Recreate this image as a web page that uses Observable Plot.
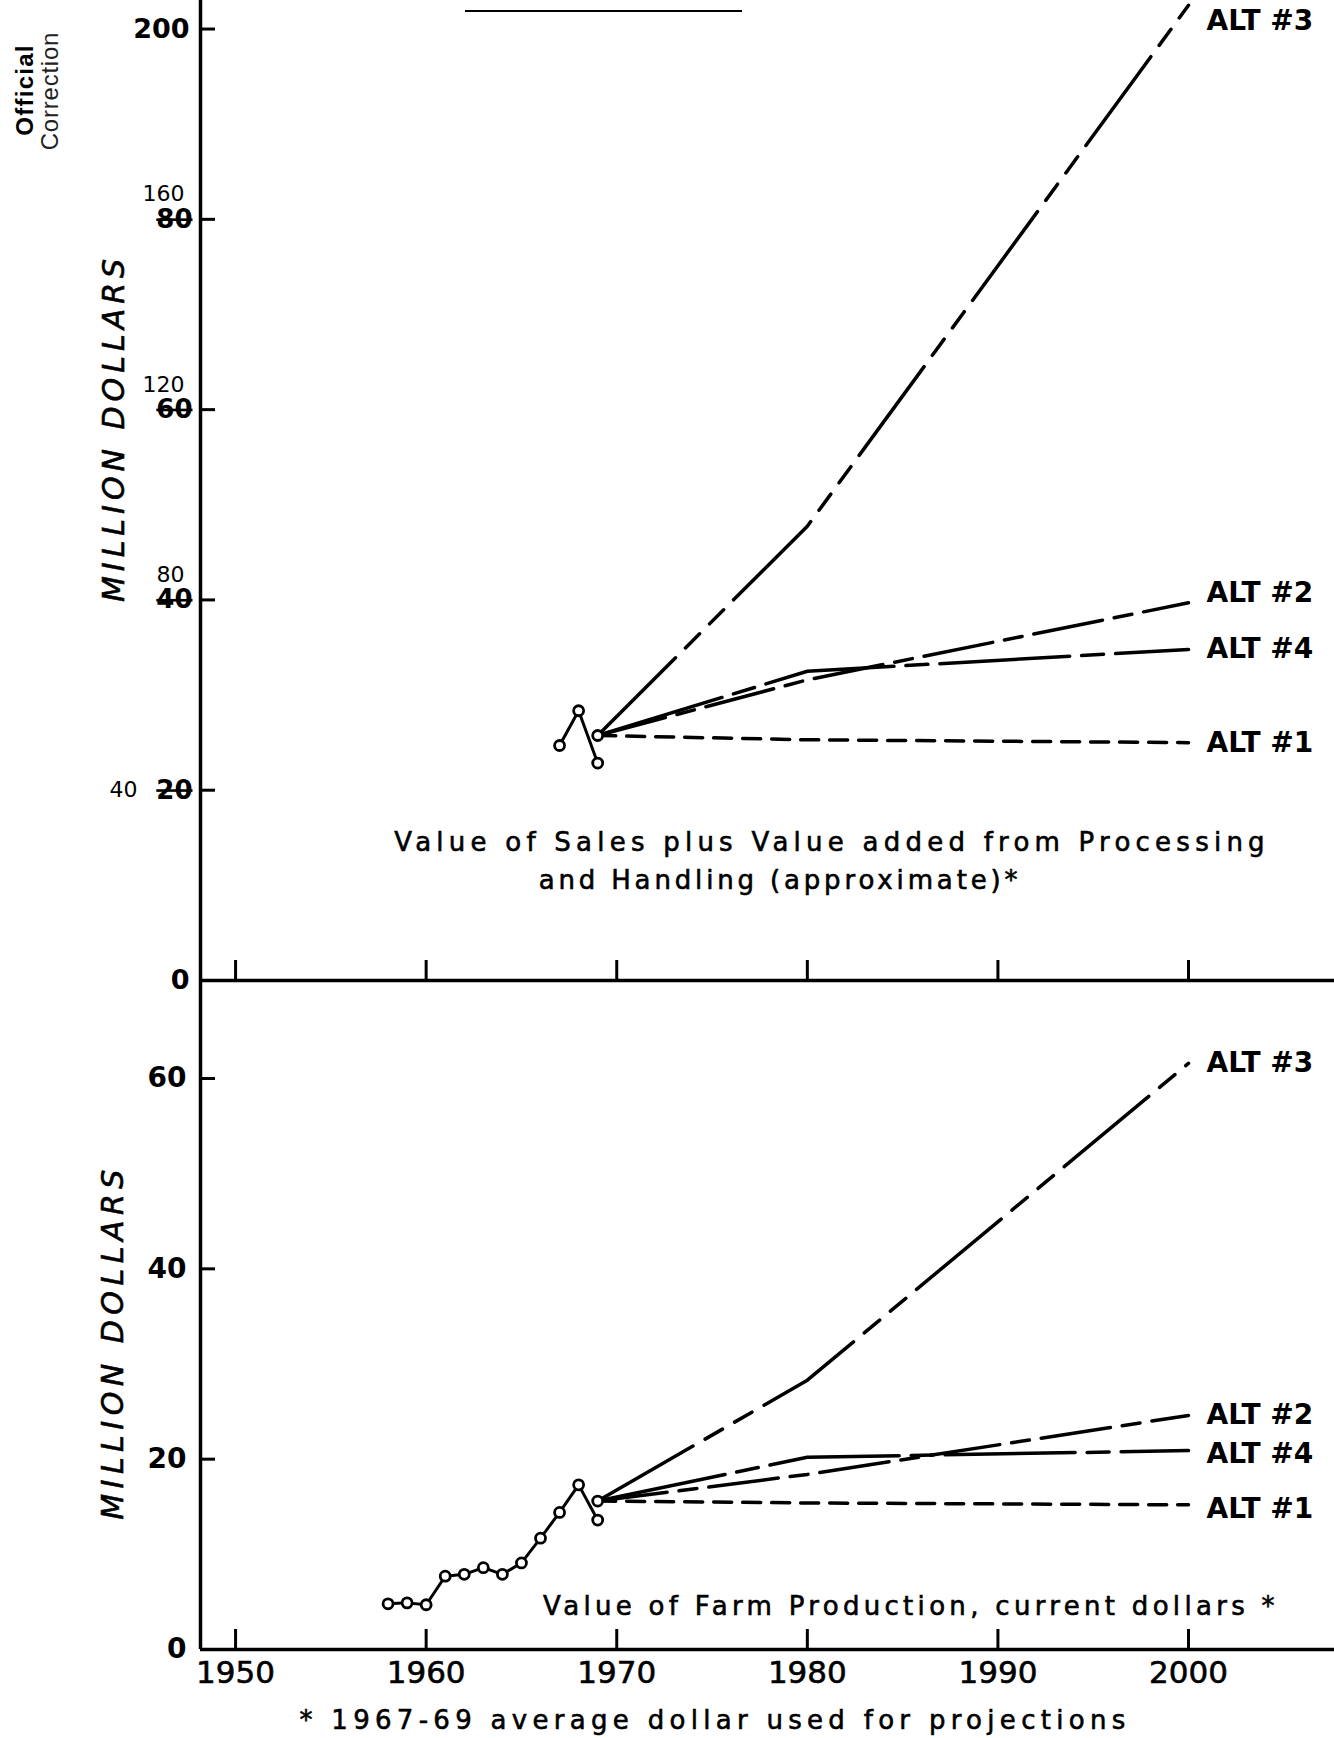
<!DOCTYPE html>
<html><head><meta charset="utf-8">
<script src="https://cdn.jsdelivr.net/npm/d3@7"></script>
<script src="https://cdn.jsdelivr.net/npm/@observablehq/plot@0.6"></script>
<style>
html,body{margin:0;padding:0;background:#fff;overflow:hidden;}
#wrap{position:relative;width:1334px;height:1738px;overflow:hidden;font-family:"DejaVu Sans",sans-serif;color:#000;background:#fff;}
.abs{position:absolute;white-space:nowrap;line-height:1;}
.heavy{-webkit-text-stroke:0.6px #000;}
#wrap svg{position:absolute;left:0;}
</style></head><body><div id="wrap"></div>
<script>
// ---------------- data ----------------
const xTicks = [1950, 1960, 1970, 1980, 1990, 2000];
const projYears = [1969, 1980, 2000];
const altNames = ["ALT #1", "ALT #2", "ALT #3", "ALT #4"];

// Top panel: Value of Sales plus Value added (million dollars, corrected scale)
const yTicksTop = [0, 40, 80, 120, 160, 200];
const yTickOldTop = [null, "20", "40", "60", "80", null];   // printed labels, struck out
const histYearsTop = [1967, 1968, 1969];
const histValuesTop = [49.4, 56.7, 45.7];
const baseTop = 51.5;          // 1967-69 average, start of projections
const alt1Top = [51.5, 50.6, 50.0];
const alt2Top = [51.5, 63.2, 79.4];
const alt3Top = [51.5, 95.5, 205];
const alt4Top = [51.5, 65.0, 69.6];

// Bottom panel: Value of Farm Production
const yTicksBottom = [0, 20, 40, 60];
const histYearsBottom = [1958, 1959, 1960, 1961, 1962, 1963, 1964, 1965, 1966, 1967, 1968, 1969];
const histValuesBottom = [4.8, 4.9, 4.7, 7.7, 7.9, 8.6, 7.9, 9.1, 11.7, 14.4, 17.3, 13.6];
const baseBottom = 15.6;
const alt1Bottom = [15.6, 15.4, 15.2];
const alt2Bottom = [15.6, 18.4, 24.6];
const alt3Bottom = [15.6, 28.3, 61.6];
const alt4Bottom = [15.6, 20.2, 20.9];

// ---------------- helpers / styling ----------------
const W = 1334, ML = 200;
const xDomain = [1948.16, 2007.66];
const dashes = ["18,11", "70,12,18,12", "110,14,20,14,20,14", "130,12,22,12"];
const font = "DejaVu Sans";
const labelNudgeTop = {"ALT #2": -10, "ALT #3": 16};
const labelNudgeBottom = {"ALT #4": 3, "ALT #1": 4};

function rows(years, values, extra = {}) { return years.map((year, i) => ({year, value: values[i], ...extra})); }
function projRows(series) { return altNames.map((name, i) => rows(projYears, series[i], {name})); }

function panelMarks(frameH, yTicks, hist, base, proj, nudge) {
  const labels = proj.map(s => s[s.length - 1]);
  const dot = {x: "year", y: "value", r: 5, fill: "white", stroke: "black", strokeWidth: 2.8};
  return [
    Plot.ruleX([xDomain[0]], {strokeWidth: 3.5}),
    Plot.ruleY([0], {strokeWidth: 3.5}),
    Plot.tickX(xTicks, {x: d => d, strokeWidth: 3, insetTop: frameH - 20}),
    Plot.tickY(yTicks, {y: d => d, strokeWidth: 3, insetRight: (W - ML) - 15}),
    ...proj.map((s, i) => Plot.line(s, {x: "year", y: "value", strokeWidth: 3.5, strokeDasharray: dashes[i]})),
    Plot.line(hist, {x: "year", y: "value", strokeWidth: 3}),
    Plot.dot(hist, dot),
    Plot.dot([{year: projYears[0], value: base}], dot),
    ...labels.map(l => Plot.text([l], {x: "year", y: "value", text: "name", textAnchor: "start", dx: 18,
      dy: nudge[l.name] || 0, fontSize: 28, fontWeight: "bold", fontFamily: font}))
  ];
}

const wrap = document.getElementById("wrap");

// ---------------- top panel ----------------
const topH = 990, topMB = 10, topFrame = topH - topMB;
const histTop = rows(histYearsTop, histValuesTop);
const projTop = projRows([alt1Top, alt2Top, alt3Top, alt4Top]);
const plainTop = yTicksTop.filter((d, i) => yTickOldTop[i] == null);
const oldTop = yTicksTop.map((d, i) => ({v: d, t: yTickOldTop[i]})).filter(d => d.t != null);
const newAbove = yTicksTop.filter((d, i) => yTickOldTop[i] != null && i > 1);
const newLeft = yTicksTop.filter((d, i) => yTickOldTop[i] != null && i === 1);

const topSvg = Plot.plot({
  width: W, height: topH, marginLeft: ML, marginRight: 0, marginTop: 0, marginBottom: topMB,
  x: {domain: xDomain, axis: null},
  y: {domain: [0, 206], axis: null},
  style: {background: "transparent", overflow: "visible", fontFamily: font},
  marks: [
    ...panelMarks(topFrame, yTicksTop, histTop, baseTop, projTop, labelNudgeTop),
    Plot.text(plainTop, {y: d => d, text: d => String(d), frameAnchor: "left", textAnchor: "end", dx: -11, fontSize: 27, fontWeight: "bold", fontFamily: font}),
    Plot.text(oldTop, {y: "v", text: "t", frameAnchor: "left", textAnchor: "end", dx: -8, fontSize: 26, fontWeight: "bold", fill: "#010101", fontFamily: font}),
    Plot.text(newAbove, {y: d => d, text: d => String(d), frameAnchor: "left", textAnchor: "end", dx: -16, dy: -25, fontSize: 22, fontFamily: font}),
    Plot.text(newLeft, {y: d => d, text: d => String(d), frameAnchor: "left", textAnchor: "end", dx: -63, dy: 0, fontSize: 22, fontFamily: font})
  ]
});
topSvg.style.top = "0px";
d3.select(topSvg).selectAll('g[fill="#010101"] text').style("text-decoration", "line-through");
wrap.appendChild(topSvg);

// ---------------- bottom panel ----------------
const botTop = 980, botH = 720, botMB = 51, botFrame = botH - botMB;
const histBottom = rows(histYearsBottom, histValuesBottom);
const projBottom = projRows([alt1Bottom, alt2Bottom, alt3Bottom, alt4Bottom]);
const botSvg = Plot.plot({
  width: W, height: botH, marginLeft: ML, marginRight: 0, marginTop: 0, marginBottom: botMB,
  x: {domain: xDomain, axis: null},
  y: {domain: [0, 70.3], axis: null},
  style: {background: "transparent", overflow: "visible", fontFamily: font},
  marks: [
    ...panelMarks(botFrame, yTicksBottom, histBottom, baseBottom, projBottom, labelNudgeBottom),
    Plot.text(yTicksBottom, {y: d => d, text: d => String(d), frameAnchor: "left", textAnchor: "end", dx: -14, fontSize: 28, fontWeight: "bold", fontFamily: font}),
    Plot.text(xTicks, {x: d => d, text: d => String(d), frameAnchor: "bottom", dy: 33, fontSize: 31, fontFamily: font, fill: "black", stroke: "black", strokeWidth: 0.6})
  ]
});
botSvg.style.top = botTop + "px";
wrap.appendChild(botSvg);

// ---------------- free text ----------------
function addText(txt, cx, cy, opts = {}) {
  const el = document.createElement("div");
  el.className = "abs" + (opts.heavy ? " heavy" : "");
  el.textContent = txt;
  el.style.fontSize = (opts.size || 25) + "px";
  if (opts.weight) el.style.fontWeight = opts.weight;
  if (opts.italic) el.style.fontStyle = "italic";
  if (opts.family) el.style.fontFamily = opts.family;
  if (opts.color) el.style.color = opts.color;
  el.style.left = cx + "px";
  el.style.top = cy + "px";
  wrap.appendChild(el);
  if (opts.width) {
    const nat = el.offsetWidth;
    const n = txt.length;
    el.style.letterSpacing = ((opts.width - nat) / Math.max(1, n - 1)) + "px";
  }
  el.style.transform = "translate(-50%,-50%)" + (opts.rotate ? " rotate(-90deg)" : "");
  return el;
}

addText("Official", 25, 90, {size: 24, weight: "bold", family: "Liberation Sans", rotate: true, width: 90});
addText("Correction", 50, 91, {size: 24, family: "Liberation Sans", color: "#222", rotate: true, width: 118});
addText("MILLION DOLLARS", 114, 428, {size: 30, italic: true, rotate: true, width: 343, heavy: true});
addText("MILLION DOLLARS", 113, 1342, {size: 30, italic: true, rotate: true, width: 350, heavy: true});
addText("Value of Sales plus Value added from Processing", 832, 842, {size: 26, width: 870, heavy: true});
addText("and Handling (approximate)*", 780, 880, {size: 26, width: 479, heavy: true});
addText("Value of Farm Production, current dollars *", 911, 1606, {size: 26, width: 732, heavy: true});
addText("* 1967-69 average dollar used for projections", 715, 1720, {size: 26, width: 826, heavy: true});

// short stroke at the top of the sheet
const bar = document.createElement("div");
bar.className = "abs";
Object.assign(bar.style, {left: "465px", top: "10px", width: "277px", height: "2px", background: "#000"});
wrap.appendChild(bar);
</script></body></html>
